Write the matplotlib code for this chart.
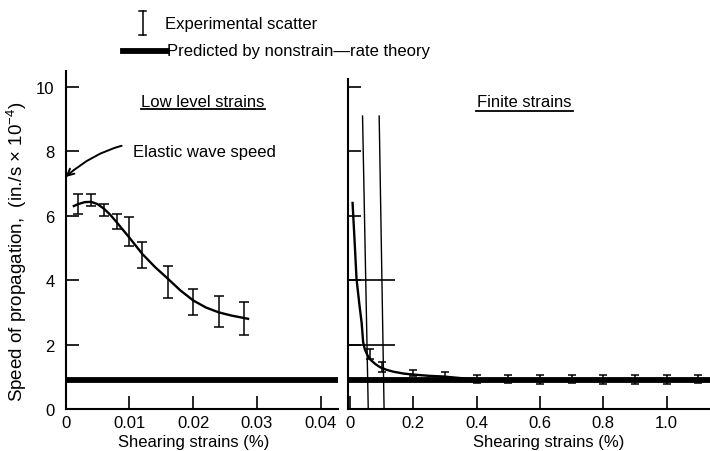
import numpy as np
import matplotlib
matplotlib.use('Agg')
import matplotlib.pyplot as plt
from matplotlib.lines import Line2D

plt.rcParams['font.family'] = ['Liberation Sans', 'DejaVu Sans']
plt.rcParams['mathtext.fontset'] = 'custom'
plt.rcParams['mathtext.rm'] = 'Liberation Sans'
plt.rcParams['font.size'] = 12

#%% Datos - deformaciones de bajo nivel
low_x = [0.002, 0.004, 0.006, 0.008, 0.010, 0.012, 0.016, 0.020, 0.024, 0.028]
low_hi = [6.68, 6.68, 6.37, 6.06, 5.96, 5.19, 4.45, 3.73, 3.52, 3.32]
low_lo = [6.06, 6.30, 6.00, 5.59, 5.06, 4.38, 3.45, 2.92, 2.54, 2.30]

low_curve_x = [0.0013, 0.002, 0.003, 0.004, 0.005, 0.006, 0.007, 0.008, 0.009, 0.010,
               0.012, 0.014, 0.016, 0.018, 0.020, 0.022, 0.024, 0.026, 0.0286]
low_curve_y = [6.30, 6.36, 6.42, 6.43, 6.36, 6.22, 6.03, 5.80, 5.56, 5.32,
               4.82, 4.41, 4.05, 3.68, 3.37, 3.15, 3.00, 2.90, 2.80]

#%% Datos - deformaciones finitas
fin_x = [0.065, 0.1, 0.2, 0.3, 0.4, 0.5, 0.6, 0.7, 0.8, 0.9, 1.0, 1.1]
fin_hi = [1.86, 1.46, 1.22, 1.16, 1.06, 1.05, 1.05, 1.05, 1.06, 1.05, 1.06, 1.07]
fin_lo = [1.55, 1.16, 1.01, 0.95, 0.81, 0.80, 0.79, 0.80, 0.79, 0.79, 0.79, 0.80]

fin_curve_x = [0.0085, 0.015, 0.021, 0.030, 0.037, 0.042, 0.047, 0.055, 0.063, 0.08,
               0.095, 0.115, 0.137, 0.17, 0.2, 0.25, 0.295, 0.35, 0.4]
fin_curve_y = [6.40, 5.20, 4.04, 3.25, 2.69, 2.07, 1.86, 1.68, 1.55, 1.40,
               1.30, 1.22, 1.16, 1.10, 1.07, 1.03, 1.01, 0.96, 0.92]

theory = 0.9          # prediccion teoria sin velocidad de deformacion
elastic = 7.2         # velocidad de onda elastica

low_ticks = [0, 0.01, 0.02, 0.03, 0.04]
low_ticklabels = ['0', '0.01', '0.02', '0.03', '0.04']
fin_ticks = [0, 0.2, 0.4, 0.6, 0.8, 1.0]
fin_ticklabels = ['0', '0.2', '0.4', '0.6', '0.8', '1.0']
y_ticks = [0, 2, 4, 6, 8, 10]

#%% Figura
fig = plt.figure(figsize=(7.1, 4.52), dpi=100)
ax1 = fig.add_axes([0.0923, 0.0929, 0.3838, 0.7485])
ax2 = fig.add_axes([0.4901, 0.0929, 0.5099, 0.7301])

for ax in (ax1, ax2):
    for s in ('top', 'right'):
        ax.spines[s].set_visible(False)
    for s in ('left', 'bottom'):
        ax.spines[s].set_linewidth(1.5)
    ax.tick_params(direction='in', length=9.5, width=1.2, labelsize=12)
    ax.axhline(theory, color='black', lw=4.2, solid_capstyle='butt')

# panel izquierdo
ax1.set_xlim(0, 0.0427)
ax1.set_ylim(0, 10.5)
ax1.set_xticks(low_ticks)
ax1.set_xticklabels(low_ticklabels)
ax1.set_yticks(y_ticks)
ax1.tick_params(axis='y', pad=8)
ax1.tick_params(axis='x', pad=4)

lc = (np.array(low_hi) + np.array(low_lo)) / 2
le = (np.array(low_hi) - np.array(low_lo)) / 2
ax1.errorbar(low_x, lc, yerr=le, fmt='none', ecolor='black', elinewidth=1.1,
             capsize=3.5, capthick=1.1)
ax1.plot(low_curve_x, low_curve_y, color='black', lw=1.7)

ax1.text(0.0215, 9.53, 'Low level strains', ha='center', va='center')
ax1.plot([0.0119, 0.0313], [9.3, 9.3], color='black', lw=1.3)

ax1.annotate('Elastic wave speed', xy=(0, elastic), xytext=(0.0105, 7.98),
             va='center', ha='left',
             arrowprops=dict(arrowstyle='->', color='black', lw=1.4,
                             connectionstyle='arc3,rad=0.3',
                             shrinkA=6, shrinkB=0))

ax1.set_xlabel('Shearing strains (%)', labelpad=3)
ax1.xaxis.label.set_x(0.47)
ax1.set_ylabel('Speed of propagation,  (in./s $\\times$ 10$^{-4}$)', labelpad=5,
               fontsize=13.5)
ax1.yaxis.label.set_y(0.467)

# panel derecho
ax2.set_xlim(-0.006, 1.137)
ax2.set_ylim(0, 10.25)
ax2.set_xticks(fin_ticks)
ax2.set_xticklabels(fin_ticklabels)
ax2.set_yticks(y_ticks[1:])
ax2.set_yticklabels([])
ax2.tick_params(axis='x', pad=4)
ax2.tick_params(axis='y', length=9)

fc = (np.array(fin_hi) + np.array(fin_lo)) / 2
fe = (np.array(fin_hi) - np.array(fin_lo)) / 2
ax2.errorbar(fin_x, fc, yerr=fe, fmt='none', ecolor='black', elinewidth=1.1,
             capsize=3, capthick=1.1)
ax2.plot(fin_curve_x, fin_curve_y, color='black', lw=1.7)

# lineas de construccion de la escala ampliada
ax2.plot([0.040, 0.058], [9.1, 0], color='black', lw=1.0)
ax2.plot([0.0925, 0.108], [9.1, 0], color='black', lw=1.0)
ax2.hlines([4, 2], -0.006, 0.142, color='black', lw=1.2)

ax2.text(0.55, 9.54, 'Finite strains', ha='center', va='center')
ax2.plot([0.398, 0.704], [9.26, 9.26], color='black', lw=1.3)

ax2.set_xlabel('Shearing strains (%)', labelpad=3)
ax2.xaxis.label.set_x(0.555)

#%% Leyenda superior
fig.add_artist(Line2D([0.201, 0.201], [0.920, 0.9735], color='black', lw=1.1))
fig.add_artist(Line2D([0.196, 0.206], [0.920, 0.920], color='black', lw=1.1))
fig.add_artist(Line2D([0.196, 0.206], [0.9735, 0.9735], color='black', lw=1.1))
fig.text(0.2324, 0.9447, 'Experimental scatter', va='center', ha='left')
fig.add_artist(Line2D([0.173, 0.235], [0.885, 0.885], color='black', lw=4.2))
fig.text(0.2352, 0.885, 'Predicted by nonstrain\u2014rate theory', va='center', ha='left')

fig.savefig('out.png', dpi=100)
